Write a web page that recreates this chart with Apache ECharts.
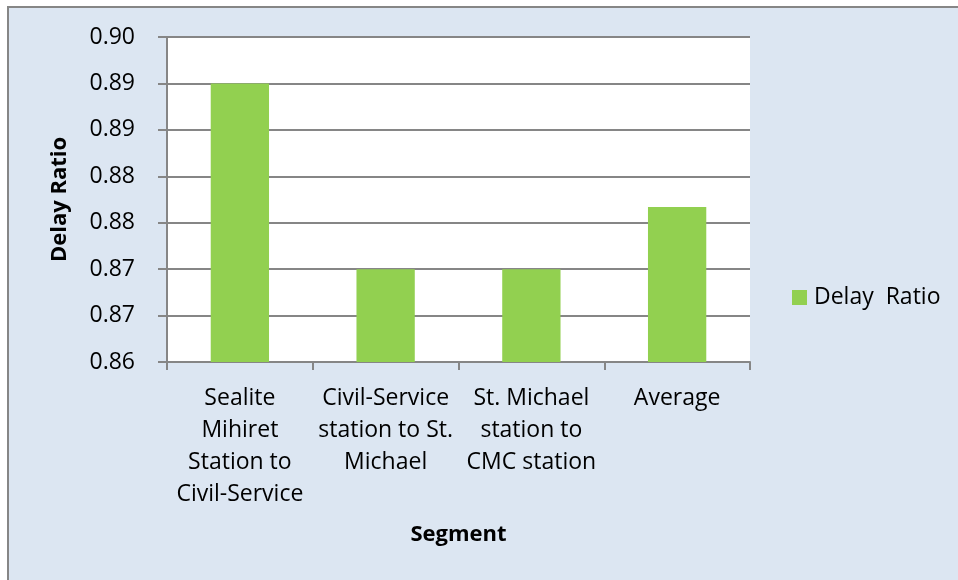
<!DOCTYPE html>
<html>
<head>
<meta charset="utf-8">
<script src="https://cdn.jsdelivr.net/npm/echarts@6/dist/echarts.min.js"></script>
<style>
  html, body { margin: 0; padding: 0; background: #fff; }
  #chart { width: 958px; height: 580px; }
</style>
</head>
<body>
<div id="chart"></div>
<script>
// data
var categories = ['Sealite\nMihiret\nStation to\nCivil-Service', 'Civil-Service\nstation to St.\nMichael', 'St. Michael\nstation to\nCMC station', 'Average'];
var delayRatio = [0.89, 0.87, 0.87, 0.8767];
var tickLabels = ['0.86', '0.87', '0.87', '0.88', '0.88', '0.89', '0.89', '0.90'];
var axisMin = 0.86;
var axisStep = 0.005;

var font = 'Open Sans';
var lineColor = '#868686';

var myChart = echarts.init(document.getElementById('chart'));

var option = {
    backgroundColor: '#fff',
    animation: false,
    textStyle: { fontFamily: font },
    graphic: [
        {
            // outer chart frame
            type: 'rect',
            z: -10,
            shape: { x: 8, y: 7, width: 960, height: 585 },
            style: { fill: '#dce6f2', stroke: lineColor, lineWidth: 2 }
        }
    ],
    legend: {
        left: 787,
        top: 281,
        itemWidth: 15,
        itemHeight: 15,
        icon: 'rect',
        textStyle: { fontFamily: font, fontSize: 23, color: '#000', padding: [0, 0, 0, 2] },
        data: ['Delay  Ratio']
    },
    grid: {
        left: 167,
        right: 208,
        top: 37,
        bottom: 218,
        show: true,
        backgroundColor: '#fff',
        borderWidth: 0
    },
    xAxis: {
        type: 'category',
        data: categories,
        name: 'Segment',
        nameLocation: 'middle',
        nameGap: 162,
        nameTextStyle: { fontFamily: font, fontSize: 22, fontWeight: 'bold', color: '#000' },
        axisLine: { lineStyle: { color: lineColor, width: 2 } },
        axisTick: { show: true, length: 8, lineStyle: { color: lineColor, width: 2 } },
        axisLabel: {
            interval: 0,
            margin: 20,
            fontFamily: font,
            fontSize: 23,
            lineHeight: 32,
            color: '#000'
        }
    },
    yAxis: {
        type: 'value',
        min: axisMin,
        max: axisMin + axisStep * (tickLabels.length - 1),
        interval: axisStep,
        name: 'Delay Ratio',
        nameLocation: 'middle',
        nameGap: 96,
        nameTextStyle: { fontFamily: font, fontSize: 22, fontWeight: 'bold', color: '#000' },
        axisLine: { show: true, lineStyle: { color: lineColor, width: 2 } },
        axisTick: { show: true, length: 9, lineStyle: { color: lineColor, width: 2 } },
        splitLine: { lineStyle: { color: lineColor, width: 2 } },
        axisLabel: {
            margin: 32,
            fontFamily: font,
            fontSize: 23,
            color: '#000',
            formatter: function (v) {
                var i = Math.round((v - axisMin) / axisStep);
                return tickLabels[i];
            }
        }
    },
    series: [
        {
            name: 'Delay  Ratio',
            type: 'bar',
            data: delayRatio,
            barWidth: '40%',
            itemStyle: { color: '#92d050' }
        }
    ]
};

myChart.setOption(option);
</script>
</body>
</html>
